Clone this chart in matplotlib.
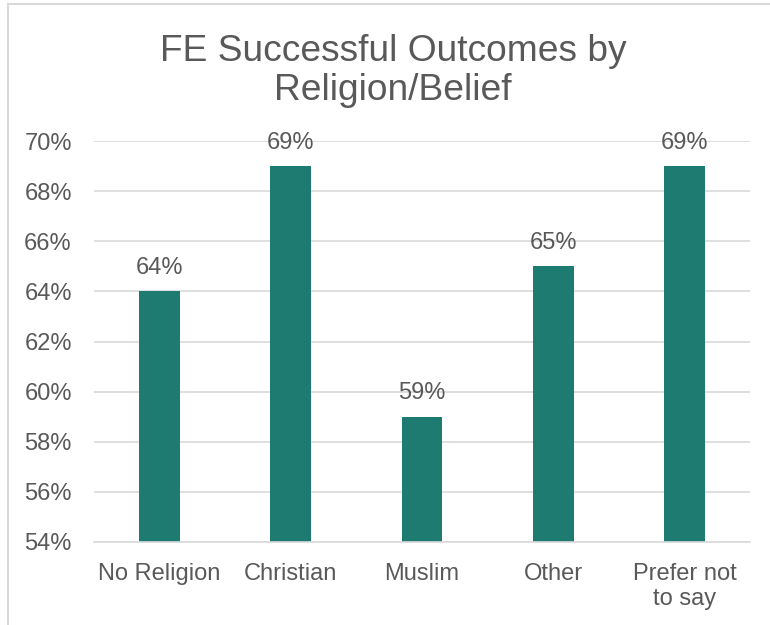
import matplotlib.pyplot as plt
from matplotlib.lines import Line2D
from matplotlib.ticker import FuncFormatter

categories = ['No Religion', 'Christian', 'Muslim', 'Other', 'Prefer not\nto say']
outcomes = [64, 69, 59, 65, 69]

teal = '#1E7B72'
text_grey = '#595959'
grid_grey = '#D9D9D9'

plt.rcParams['font.family'] = ['Liberation Sans', 'DejaVu Sans']

fig = plt.figure(figsize=(7.7, 6.25), dpi=100)
ax = fig.add_axes([94 / 770, 1 - 542 / 625, (750 - 94) / 770, (542 - 141) / 625])

x = range(len(categories))
ax.bar(x, outcomes, width=0.31, color=teal, zorder=2)

ax.set_ylim(54, 70)
ax.set_xlim(-0.5, len(categories) - 0.5)
ax.set_yticks(range(54, 71, 2))
ax.yaxis.set_major_formatter(FuncFormatter(lambda v, p: f'{v:.0f}%'))
ax.set_xticks(list(x))
ax.set_xticklabels(categories, linespacing=1.2)

ax.grid(axis='y', color=grid_grey, linewidth=1.2, zorder=0)
for s in ['top', 'right', 'left']:
    ax.spines[s].set_visible(False)
ax.spines['bottom'].set_color(grid_grey)
ax.spines['bottom'].set_linewidth(1.2)
ax.tick_params(axis='both', length=0, labelsize=17, colors=text_grey)
ax.tick_params(axis='y', pad=16)
ax.tick_params(axis='x', pad=15)

for xi, v in zip(x, outcomes):
    ax.annotate(f'{v}%', (xi, v), xytext=(0, 9), textcoords='offset points',
                ha='center', va='bottom', fontsize=17, color=text_grey,
                annotation_clip=False)

fig.text(393 / 770, 1 - 71 / 625, 'FE Successful Outcomes by\nReligion/Belief',
         ha='center', va='center', fontsize=26.7, color=text_grey, linespacing=1.18)

# chart area frame
fig.add_artist(Line2D([7.5 / 770, 7.5 / 770], [0, 1 - 4 / 625],
                      transform=fig.transFigure, color=grid_grey, linewidth=1.5))
fig.add_artist(Line2D([7.5 / 770, 1], [1 - 4 / 625, 1 - 4 / 625],
                      transform=fig.transFigure, color=grid_grey, linewidth=1.5))

fig.savefig('out.png', dpi=100)
